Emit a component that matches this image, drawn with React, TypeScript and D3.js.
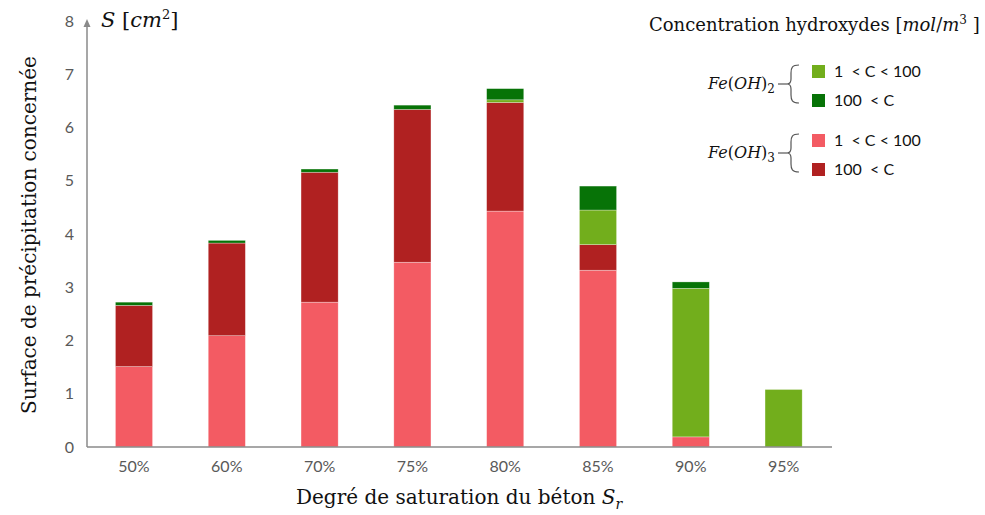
import React from 'react';
import * as d3 from 'd3';

// Degrés de saturation (catégories)
const categories = ['50%', '60%', '70%', '75%', '80%', '85%', '90%', '95%'];
// Surfaces (cm²) par classe de concentration
const fe3Low = [1.51, 2.09, 2.72, 3.47, 4.43, 3.32, 0.19, 0];
const fe3High = [1.15, 1.74, 2.44, 2.87, 2.04, 0.48, 0, 0];
const fe2Low = [0, 0, 0, 0, 0.05, 0.65, 2.79, 1.08];
const fe2High = [0.06, 0.05, 0.06, 0.08, 0.21, 0.45, 0.12, 0];
const yTicks = [0, 1, 2, 3, 4, 5, 6, 7, 8];

const keys = ['fe3Low', 'fe3High', 'fe2Low', 'fe2High'];
const colors: Record<string, string> = {
    fe3Low: '#F35B63',
    fe3High: '#B02121',
    fe2Low: '#72AE1C',
    fe2High: '#077307',
};

const W = 985;
const H = 515;
const serif = '"DejaVu Serif", "Liberation Serif", serif';
const sans = 'Lato, "Open Sans", sans-serif';

const Brace = ({ top, bottom, x }: { top: number, bottom: number, x: number }) => {
    const mid = (top + bottom) / 2;
    const d = `M ${x + 12} ${top} C ${x + 5} ${top}, ${x + 4} ${top + 3}, ${x + 4} ${top + 8}
        L ${x + 4} ${mid - 5} C ${x + 4} ${mid - 1}, ${x + 2} ${mid}, ${x} ${mid}
        C ${x + 2} ${mid}, ${x + 4} ${mid + 1}, ${x + 4} ${mid + 5}
        L ${x + 4} ${bottom - 8} C ${x + 4} ${bottom - 3}, ${x + 5} ${bottom}, ${x + 12} ${bottom}`;
    return (
        <g fill="none" stroke="#555" strokeWidth={1.2}>
            <path d={d} />
            <line x1={x - 9} x2={x} y1={mid} y2={mid} />
        </g>
    );
};

const App: React.FC = () => {
    const rows = categories.map((c, i) => ({
        cat: c, fe3Low: fe3Low[i], fe3High: fe3High[i], fe2Low: fe2Low[i], fe2High: fe2High[i],
    }));
    const series = d3.stack<any>().keys(keys)(rows);

    const x = d3.scaleBand().domain(categories).range([87.6, 830]).paddingInner(0.6).paddingOuter(0.3);
    const y = d3.scaleLinear().domain([0, 8]).range([447, 21]);
    const x0 = 87;

    const legendGroups = [
        { label: '2', items: [{ key: 'fe2Low', text: '1  < C < 100' }, { key: 'fe2High', text: '100  < C' }], top: 65 },
        { label: '3', items: [{ key: 'fe3Low', text: '1  < C < 100' }, { key: 'fe3High', text: '100  < C' }], top: 134 },
    ];

    return (
        <svg width={W} height={H} style={{ position: 'absolute', left: 0, top: 0, background: '#fff' }}>
            {/* barres empilées */}
            {series.map(s => (
                <g key={s.key} fill={colors[s.key]}>
                    {s.map((d, i) => {
                        const h = y(d[0]) - y(d[1]);
                        if (h <= 0) return null;
                        return (
                            <rect key={i} x={x(categories[i])} y={y(d[1])} width={x.bandwidth()} height={h}
                                stroke="rgba(255,255,255,0.5)" strokeWidth={0.6} />
                        );
                    })}
                </g>
            ))}

            {/* axes */}
            <line x1={x0} x2={832} y1={y(0)} y2={y(0)} stroke="#8a8a8a" strokeWidth={1.5} />
            <line x1={x0} x2={x0} y1={y(0)} y2={y(8) + 4} stroke="#8a8a8a" strokeWidth={1.5} />
            <path d={`M ${x0 - 3.5} ${y(8) + 6} L ${x0} ${y(8) - 2} L ${x0 + 3.5} ${y(8) + 6} Z`} fill="#8a8a8a" />

            {yTicks.map(t => (
                <text key={t} x={74} y={y(t)} dy="0.35em" textAnchor="end" fontFamily={sans} fontSize={16} fill="#595959">{t}</text>
            ))}
            {categories.map(c => (
                <text key={c} x={(x(c) as number) + x.bandwidth() / 2} y={472} textAnchor="middle" fontFamily={sans} fontSize={16} fill="#595959">{c}</text>
            ))}

            {/* titres des axes */}
            <text x={101} y={27} fontFamily={serif} fontSize={21} fill="#111">
                <tspan fontStyle="italic">S</tspan> [<tspan fontStyle="italic">cm</tspan><tspan fontSize={13} dy={-8}>2</tspan><tspan dy={8}>]</tspan>
            </text>
            <text transform="translate(36, 235) rotate(-90)" textAnchor="middle" fontFamily={serif} fontSize={20} fill="#111">
                Surface de précipitation concernée
            </text>
            <text x={296} y={504} fontFamily={serif} fontSize={20} fill="#111">
                Degré de saturation du béton <tspan fontStyle="italic">S</tspan><tspan fontStyle="italic" fontSize={14} dy={5}>r</tspan>
            </text>

            {/* légende */}
            <text x={649} y={31} fontFamily={serif} fontSize={18} fill="#111">
                Concentration hydroxydes [<tspan fontStyle="italic">mol</tspan>/<tspan fontStyle="italic">m</tspan><tspan fontSize={12} dy={-7}>3</tspan><tspan dy={7}> ]</tspan>
            </text>
            {legendGroups.map(g => {
                const bottom = g.top + 38;
                const mid = (g.top + bottom) / 2;
                return (
                    <g key={g.label}>
                        <text x={775} y={mid + 5} textAnchor="end" fontFamily={serif} fontSize={16} fill="#111">
                            <tspan fontStyle="italic">Fe</tspan>(<tspan fontStyle="italic">OH</tspan>)<tspan fontSize={12} dy={4}>{g.label}</tspan>
                        </text>
                        <Brace top={g.top} bottom={bottom} x={787} />
                        {g.items.map((it, j) => {
                            const sy = g.top + j * 29;
                            return (
                                <g key={it.key}>
                                    <rect x={812} y={sy} width={13} height={13} fill={colors[it.key]} />
                                    <text x={834} y={sy + 6.5} dy="0.35em" fontFamily={sans} fontSize={16} fill="#111"
                                        style={{ whiteSpace: 'pre' }}>{it.text}</text>
                                </g>
                            );
                        })}
                    </g>
                );
            })}
        </svg>
    );
};

export default App;
